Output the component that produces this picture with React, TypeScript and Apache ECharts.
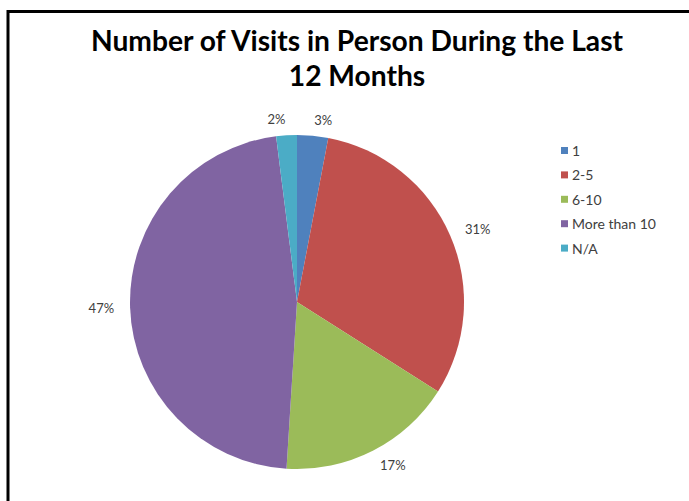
import React, { useEffect, useRef } from "react";
import * as echarts from "echarts";

const titleLines = ["Number of Visits in Person During the Last", "12 Months"];
const categories = ["1", "2-5", "6-10", "More than 10", "N/A"];
const values = [3, 31, 17, 47, 2];
const colors = ["#4F81BD", "#C0504D", "#9BBB59", "#8064A2", "#4BACC6"];

export default function App() {
  const ref = useRef<HTMLDivElement>(null);
  useEffect(() => {
    const chart = echarts.init(ref.current!, null, { renderer: "svg" });
    chart.setOption({
      animation: false,
      backgroundColor: "#ffffff",
      color: colors,
      title: {
        text: titleLines.join("\n"),
        left: 352,
        top: 17,
        textAlign: "center",
        textStyle: {
          fontFamily: "Lato",
          fontWeight: "bold",
          fontSize: 28.2,
          lineHeight: 35,
          color: "#000000",
        },
      },
      legend: {
        orient: "vertical",
        left: 556,
        top: 138,
        itemWidth: 7,
        itemHeight: 7,
        itemGap: 9.4,
        icon: "rect",
        textStyle: {
          fontFamily: "Lato",
          fontSize: 14,
          lineHeight: 15,
          color: "#404040",
          padding: [0, 0, 0, -1],
        },
        data: categories,
      },
      graphic: [
        {
          type: "rect",
          shape: { x: 8, y: 11.5, width: 720, height: 520 },
          style: { fill: "none", stroke: "#000000", lineWidth: 3 },
          silent: true,
        },
      ],
      series: [
        {
          type: "pie",
          center: [297, 302],
          radius: 167,
          startAngle: 90,
          clockwise: true,
          avoidLabelOverlap: false,
          data: categories.map((c, i) => ({ name: c, value: values[i] })),
          label: {
            show: true,
            position: "outside",
            formatter: "{d}%",
            fontFamily: "Lato",
            fontSize: 13,
            color: "#404040",
            distanceToLabelLine: 0,
          },
          labelLine: { show: false, length: 16, length2: 0 },
          itemStyle: { borderWidth: 0 },
          emphasis: { disabled: true },
        },
      ],
    });
    return () => chart.dispose();
  }, []);
  return (
    <div
      ref={ref}
      style={{ position: "absolute", left: 0, top: 0, width: 689, height: 501 }}
    />
  );
}
